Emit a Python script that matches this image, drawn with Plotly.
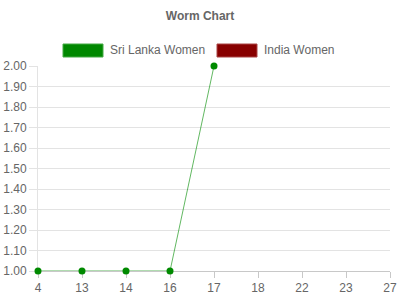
import plotly.graph_objects as go

categories = ["4", "13", "14", "16", "17", "18", "22", "23", "27"]
sri_lanka = [1, 1, 1, 1, 2, None, None, None, None]
india = [None] * 9
series_names = ["Sri Lanka Women", "India Women"]
series_fill = ["#008800", "#880000"]
series_border = ["#44aa44", "#aa4444"]

FONT = "Liberation Sans, Arial, sans-serif"
GRID = "#e3e3e3"

fig = go.Figure()
fig.add_trace(go.Scatter(
    x=categories, y=sri_lanka, mode="lines+markers", name=series_names[0],
    line=dict(color="rgba(0,140,0,0.62)", width=1),
    marker=dict(color="#008a00", size=7),
    cliponaxis=False, showlegend=False,
))
fig.add_trace(go.Scatter(
    x=categories, y=india, mode="lines+markers", name=series_names[1],
    line=dict(color="#880000", width=1),
    marker=dict(color="#880000", size=7),
    cliponaxis=False, showlegend=False,
))

# manual legend (boxes + text)
shapes = []
annotations = []
legend_x = [63, 217]
for i, name in enumerate(series_names):
    x0 = legend_x[i]
    shapes.append(dict(type="rect", xref="paper", yref="paper",
                       x0=(x0 - 38) / 352, x1=(x0 + 40 - 38) / 352,
                       y0=(271 - 57) / 205, y1=(271 - 44) / 205,
                       fillcolor=series_fill[i],
                       line=dict(color=series_border[i], width=1)))
    annotations.append(dict(text=name, xref="paper", yref="paper",
                            x=(x0 + 45 - 38) / 352, y=(271 - 50) / 205,
                            xanchor="left", yanchor="middle", showarrow=False,
                            font=dict(family=FONT, size=12, color="#666666")))

fig.update_layout(
    width=400, height=300,
    margin=dict(l=38, r=10, t=66, b=29),
    paper_bgcolor="white", plot_bgcolor="white",
    title=dict(text="<b>Worm Chart</b>", x=0.5, xanchor="center",
               y=1 - 16 / 300, yanchor="middle",
               font=dict(family=FONT, size=12, color="#666666")),
    shapes=shapes, annotations=annotations,
    xaxis=dict(type="category", range=[0, 8], showgrid=False, automargin=False,
               showline=True, linecolor="#c8c8c8", linewidth=1,
               ticks="outside", ticklen=6, tickcolor="#c8c8c8",
               tickfont=dict(family=FONT, size=12, color="#666666"),
               zeroline=False, fixedrange=True, layer="below traces"),
    yaxis=dict(range=[1, 2], dtick=0.1, tickformat=".2f", automargin=False,
               showgrid=True, gridcolor=GRID, gridwidth=1,
               showline=True, linecolor=GRID, linewidth=1,
               ticks="outside", ticklen=8, tickcolor=GRID,
               tickfont=dict(family=FONT, size=12, color="#666666"),
               zeroline=False, fixedrange=True, layer="below traces"),
)

fig.write_html("out.html")
